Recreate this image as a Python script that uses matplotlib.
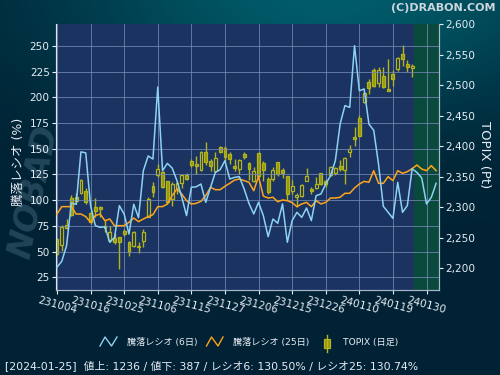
import numpy as np
import matplotlib
matplotlib.use("Agg")
import matplotlib.pyplot as plt
from matplotlib.lines import Line2D
from matplotlib.patches import Rectangle
from matplotlib.ticker import FuncFormatter

plt.rcParams['font.family'] = ['DejaVu Sans', 'Noto Sans CJK JP']

# ---------------- data ----------------
date_labels = ['231004', '231016', '231025', '231106', '231115', '231127',
               '231206', '231215', '231226', '240110', '240119', '240130']
date_ticks = [0, 7, 14, 21, 28, 35, 42, 49, 56, 63, 70, 77]

ratio6 = [34.7, 40.5, 55.7, 97, 96, 147, 146, 94.7, 75.2, 73.6,
          74.2, 59, 63.8, 94.7, 86.5, 67, 96, 83, 128.7, 143,
          140, 210, 128.7, 135.8, 131.3, 119, 103, 85, 112.5, 113,
          115.7, 97.9, 112.5, 127, 129.7, 138.4, 120.6, 122.2, 122.9, 110.9,
          96.9, 86.6, 97.9, 84.9, 64.5, 81.7, 77.5, 96.3, 59, 80.1,
          88.2, 83.3, 92.4, 80.1, 104.4, 106, 115.7, 123.8, 138.4, 174.1,
          192, 190.3, 250.3, 206.5, 208.2, 174, 168, 135, 94, 88.2,
          82.3, 117.4, 88.2, 94.7, 130.5, 127, 121.6, 96.3, 102.8, 116.4]

ratio25 = [86.5, 93.7, 93.7, 93.7, 86.5, 86.5, 84, 78.4, 85, 86.5,
           80, 81.7, 75, 75.2, 75.2, 78.4, 82.6, 79.1, 81.7, 84,
           85.9, 93.7, 93.7, 96.3, 104.4, 110.9, 106, 99.5, 96.3, 96.9,
           98.9, 104.4, 112.5, 110.2, 110.2, 113.5, 116.4, 119.6, 120.6, 119,
           117.4, 109.2, 123, 104, 102.1, 102.8, 98.5, 100.2, 99.5, 97.6,
           93.7, 96.3, 97.9, 93.7, 99.5, 96.3, 97.9, 102.1, 102.1, 102.8,
           106.7, 106.7, 111.8, 115.7, 118.3, 117.4, 128.7, 116.4, 116.4, 122.9,
           119, 128.7, 126.1, 127.7, 130.7, 134.2, 130.3, 128.7, 133.6, 128.7]

topix_open = [2248, 2237, 2271, 2315, 2317, 2322.5, 2327, 2290, 2300.5, 2300.5,
              2269.5, 2246, 2249, 2250.5, 2260, 2242, 2236.5, 2236.5, 2244, 2284,
              2335, 2353, 2357, 2342, 2313, 2332, 2339, 2353, 2376, 2370.5,
              2361, 2391, 2375, 2359.5, 2398, 2397, 2387, 2366.5, 2362.5, 2387,
              2371.5, 2343, 2388, 2371.5, 2346, 2346, 2373, 2361, 2351, 2327,
              2316, 2318.5, 2343, 2330, 2331, 2356, 2342, 2353, 2355, 2368,
              2360.5, 2389.5, 2415, 2445.5, 2471.5, 2505.5, 2524.5, 2503, 2515, 2493.5,
              2518, 2526, 2551, 2534.5, 2527.5]
topix_high = [2249, 2270, 2280, 2319, 2322.5, 2346, 2332, 2294, 2315, 2302,
              2278, 2269.5, 2257, 2251.5, 2264, 2245, 2261, 2242, 2264, 2316,
              2340.5, 2370.5, 2359.5, 2343, 2340.5, 2343, 2354, 2355, 2378.5, 2384,
              2392.5, 2406, 2378.5, 2389.5, 2400.5, 2400.5, 2389.5, 2378.5, 2378.5, 2389.5,
              2373, 2365, 2389.5, 2376, 2348.5, 2366, 2373.5, 2364, 2351.5, 2344,
              2322.5, 2338, 2364, 2333.5, 2348.5, 2356, 2346, 2368, 2365, 2377,
              2381.5, 2402, 2431.5, 2451, 2488, 2510, 2528, 2529, 2529, 2542.5,
              2524.5, 2545.5, 2566, 2541, 2534.5]
topix_low = [2222, 2228.5, 2264, 2286, 2305, 2321.5, 2305, 2272, 2283, 2283,
             2258.5, 2242, 2239.5, 2198.5, 2253, 2220, 2234, 2224, 2234, 2283,
             2316, 2348.5, 2331, 2305, 2302, 2321.5, 2332, 2344, 2365, 2354,
             2359.5, 2369.5, 2359.5, 2358.5, 2388, 2376, 2370.5, 2359.5, 2354, 2378.5,
             2344, 2340.5, 2350, 2343, 2321.5, 2343, 2351.5, 2347.5, 2311.5, 2321.5,
             2299.5, 2316, 2343, 2321.5, 2329.5, 2336.5, 2332.5, 2351.5, 2353, 2359.5,
             2338, 2382.5, 2400.5, 2416.5, 2470, 2485, 2497, 2496, 2495, 2489.5,
             2499, 2523.5, 2531.5, 2521, 2513.5]
topix_close = [2223, 2268, 2266, 2287.5, 2309.5, 2344, 2308, 2276, 2293, 2296,
               2265.5, 2259.5, 2242, 2242, 2256, 2226, 2258.5, 2234, 2258.5, 2313,
               2324, 2362.5, 2333.5, 2307.5, 2338, 2339, 2353, 2346, 2369.5, 2368,
               2391, 2373, 2368, 2380, 2391, 2382.5, 2378.5, 2364, 2377, 2382.5,
               2362.5, 2358.5, 2351.5, 2361, 2324, 2361, 2354, 2356, 2321.5, 2334.5,
               2319.5, 2336, 2350.5, 2326, 2338, 2338, 2338, 2366, 2364, 2362.5,
               2380.5, 2395, 2411.5, 2417, 2486.5, 2494.5, 2499, 2524.5, 2496, 2489.5,
               2510, 2544.5, 2542.5, 2529, 2530.5]

info_text = "[2024-01-25]  値上: 1236 / 値下: 387 / レシオ6: 130.50% / レシオ25: 130.74%"
legend_labels = ['騰落レシオ (6日)', '騰落レシオ (25日)', 'TOPIX (日足)']

# ---------------- style ----------------
W, H = 500, 375
plot_bg = '#1a3361'
olive_edge = '#b4b41c'
olive_fill = '#959510'
cyan = '#8dd2f0'
orange = '#ffa51a'
grid_c = '#7488b4'
text_c = '#e6ecf4'

fig = plt.figure(figsize=(5, 3.75), dpi=100)

# background gradient
bg = fig.add_axes([0, 0, 1, 1], zorder=-10)
yy, xx = np.mgrid[0:1:375j, 0:1:500j]
w = np.exp(-(((xx - 0.66) ** 2) / 0.30 + ((yy + 0.02) ** 2) / 0.10))
dark = np.array([1, 34, 52]) / 255.0
teal = np.array([0, 92, 106]) / 255.0
img = dark[None, None, :] * (1 - w[..., None]) + teal[None, None, :] * w[..., None]
bg.imshow(img, aspect='auto', extent=[0, 1, 0, 1], origin='upper')
bg.set_axis_off()

# watermark
fig.text(34 / W, 1 - 192 / H, 'NOBAD', rotation=78, fontsize=24, fontweight='bold',
         style='italic', color='#4a6e84', alpha=0.45, ha='center', va='center', zorder=-5)

ax = fig.add_axes([56 / W, 1 - 290 / H, 383 / W, 266 / H])
ax.set_facecolor(plot_bg)
axr = ax.twinx()
ax.yaxis.tick_right()
ax.yaxis.set_label_position('right')
axr.yaxis.tick_left()
axr.yaxis.set_label_position('left')

x_c = np.arange(len(topix_close))
o = np.array(topix_open); c = np.array(topix_close)
hi = np.array(topix_high); lo = np.array(topix_low)
up = c >= o

xlim = (-0.2, 79.6)
ax.axvspan(74.3, xlim[1], color='#0a4a3c', zorder=0.5, lw=0)
ax.vlines(x_c, lo, hi, color=olive_edge, lw=1.0, zorder=3)
ax.bar(x_c[up], c[up] - o[up], bottom=o[up], width=0.6, facecolor=plot_bg,
       edgecolor=olive_edge, lw=0.9, zorder=4)
ax.bar(x_c[~up], o[~up] - c[~up], bottom=c[~up], width=0.6, facecolor=olive_fill,
       edgecolor=olive_edge, lw=0.9, zorder=4)

x_r = np.arange(len(ratio6))
axr.plot(x_r, ratio25, color=orange, lw=1.1, zorder=5)
axr.plot(x_r, ratio6, color=cyan, lw=1.1, zorder=6)

ax.set_xlim(*xlim)
ax.set_ylim(2164, 2600)
axr.set_ylim(12.6, 271.4)
ax.set_yticks(np.arange(2200, 2601, 50))
ax.yaxis.set_major_formatter(FuncFormatter(lambda v, p: f"{int(v):,}"))
axr.set_yticks(np.arange(25, 251, 25))
ax.set_xticks(date_ticks)
ax.set_xticklabels(date_labels, rotation=-15, ha='center')

ax.grid(True, axis='x', color=grid_c, lw=0.7, alpha=0.8)
axr.grid(True, axis='y', color=grid_c, lw=0.7, alpha=0.8)
axr.set_axisbelow(True)

for a in (ax, axr):
    a.tick_params(colors=text_c, labelsize=7.6, length=3, width=0.8, direction='out', pad=1.5)
    for s in a.spines.values():
        s.set_color('#aab6cc')
        s.set_linewidth(0.8)
    a.spines['top'].set_visible(False)
ax.tick_params(axis='x', pad=1)
axr.spines['left'].set_color('#dfe6f0')

fig.text(18 / W, 1 - 162 / H, '騰落レシオ (%)', rotation=90, ha='center', va='center',
         color=text_c, fontsize=9)
fig.text(485 / W, 1 - 155 / H, 'TOPIX (Pt)', rotation=270, ha='center', va='center',
         color=text_c, fontsize=9.5)
fig.text(496 / W, 1 - 8 / H, '(C)DRABON.COM', ha='right', va='center',
         color='#cdd5de', fontsize=8, fontweight='bold')

# legend (drawn manually)
ly = 1 - 342 / H
def fx(px): return px / W
def fy(py): return 1 - py / H
fig.add_artist(Line2D([fx(100), fx(105), fx(111.5), fx(117)],
                      [fy(346), fy(337), fy(346), fy(337)], color=cyan, lw=1.0))
fig.text(fx(127), ly, legend_labels[0], color=text_c, fontsize=6.6, va='center', ha='left')
fig.add_artist(Line2D([fx(206.5), fx(211.5), fx(218), fx(223)],
                      [fy(346), fy(337), fy(346), fy(337)], color=orange, lw=1.0))
fig.text(fx(233), ly, legend_labels[1], color=text_c, fontsize=6.6, va='center', ha='left')
fig.add_artist(Line2D([fx(326.5), fx(326.5)], [fy(335), fy(352)], color=olive_edge, lw=1.0))
fig.add_artist(Rectangle((fx(323.5), fy(348)), 6 / W, 9 / H, facecolor=olive_fill,
                         edgecolor=olive_edge, lw=0.9, transform=fig.transFigure))
fig.text(fx(343), ly, legend_labels[2], color=text_c, fontsize=6.6, va='center', ha='left')

fig.text(fx(5), fy(366), info_text, color=text_c, fontsize=7.8, va='center', ha='left')

fig.savefig('out.png', dpi=100)
